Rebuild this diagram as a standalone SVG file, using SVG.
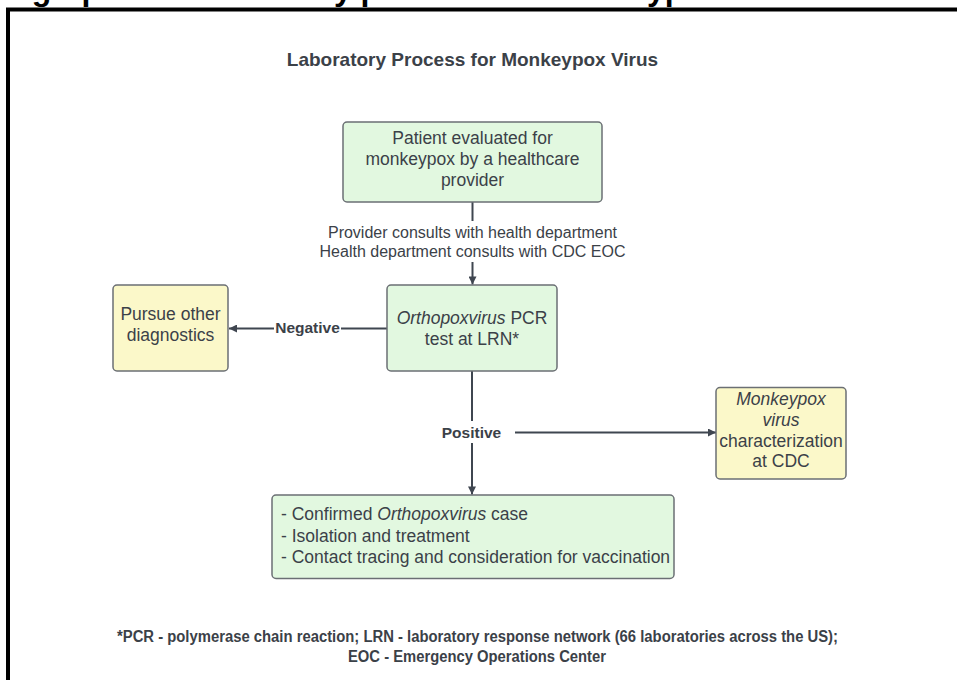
<svg xmlns="http://www.w3.org/2000/svg" width="957" height="680" viewBox="0 0 957 680">
<defs>
<style>
.t{font-family:"Liberation Sans",Arial,sans-serif;fill:#3b4148;}
.n{font-size:17.5px;}
.lbl{font-size:16px;}
.b{font-weight:bold;}
.fn{font-family:"Liberation Sans Narrow","Liberation Sans",Arial,sans-serif;font-weight:bold;font-size:16px;fill:#3b4148;}
.box{stroke:#6b6f74;stroke-width:1.5;}
.g{fill:#e2f8e0;}
.y{fill:#fbf8c9;}
.c{stroke:#3f4650;stroke-width:2;fill:none;}
</style>
<marker id="ah" viewBox="0 0 10 10" refX="10" refY="5" markerWidth="11" markerHeight="8" markerUnits="userSpaceOnUse" orient="auto">
<path d="M0,0 L10,5 L0,10 z" fill="#3f4650"/>
</marker>
</defs>
<rect x="0" y="0" width="957" height="680" fill="#ffffff"/>
<text x="-27" y="-0.5" style="font-family:'Liberation Sans',Arial,sans-serif;font-weight:bold;font-size:32px;fill:#000">Infographic of laboratory process for monkeypox virus</text>
<rect x="8" y="9.5" width="960" height="690" fill="none" stroke="#000" stroke-width="4"/>
<text class="t b" x="472.5" y="66" text-anchor="middle" font-size="19">Laboratory Process for Monkeypox Virus</text>

<g id="connectors">
<path class="c" d="M472.5 202 V221"/>
<path class="c" d="M472.5 262 V284.5" marker-end="url(#ah)"/>
<path class="c" d="M387 328.5 H341"/>
<path class="c" d="M274 328.5 H229" marker-end="url(#ah)"/>
<path class="c" d="M472 371 V421"/>
<path class="c" d="M472 443 V494.5" marker-end="url(#ah)"/>
<path class="c" d="M515 432.5 H716" marker-end="url(#ah)"/>
<text class="t lbl" x="472.5" y="238" text-anchor="middle">Provider consults with health department</text>
<text class="t lbl" x="472.5" y="256.5" text-anchor="middle">Health department consults with CDC EOC</text>
<text class="t b" x="307.5" y="333" text-anchor="middle" font-size="15.5">Negative</text>
<text class="t b" x="471.5" y="437.5" text-anchor="middle" font-size="15.5">Positive</text>
</g>

<g id="node-patient">
<rect class="box g" x="343" y="122" width="259" height="80" rx="4"/>
<text class="t n" x="472.5" y="144" text-anchor="middle">Patient evaluated for</text>
<text class="t n" x="472.5" y="165" text-anchor="middle">monkeypox by a healthcare</text>
<text class="t n" x="472.5" y="186" text-anchor="middle">provider</text>
</g>

<g id="node-pcr">
<rect class="box g" x="387" y="285" width="170" height="86" rx="4"/>
<text class="t n" x="472" y="324" text-anchor="middle"><tspan font-style="italic">Orthopoxvirus</tspan> PCR</text>
<text class="t n" x="472" y="345" text-anchor="middle">test at LRN*</text>
</g>

<g id="node-other">
<rect class="box y" x="113" y="285" width="115" height="86" rx="4"/>
<text class="t n" x="170.5" y="320" text-anchor="middle">Pursue other</text>
<text class="t n" x="170.5" y="341" text-anchor="middle">diagnostics</text>
</g>

<g id="node-cdc">
<rect class="box y" x="716" y="387.5" width="130" height="91.5" rx="4"/>
<text class="t n" x="781" y="405" text-anchor="middle" font-style="italic">Monkeypox</text>
<text class="t n" x="781" y="425.5" text-anchor="middle" font-style="italic">virus</text>
<text class="t n" x="781" y="446.5" text-anchor="middle">characterization</text>
<text class="t n" x="781" y="467" text-anchor="middle">at CDC</text>
</g>

<g id="node-confirmed">
<rect class="box g" x="272" y="495" width="402" height="83.5" rx="4"/>
<text class="t n" x="281" y="519.5">- Confirmed <tspan font-style="italic">Orthopoxvirus</tspan> case</text>
<text class="t n" x="281" y="541.5">- Isolation and treatment</text>
<text class="t n" x="281" y="562.5">- Contact tracing and consideration for vaccination</text>
</g>

<g id="footnote">
<text class="fn" x="117" y="642" textLength="721" lengthAdjust="spacingAndGlyphs">*PCR - polymerase chain reaction; LRN - laboratory response network (66 laboratories across the US);</text>
<text class="fn" x="348" y="662" textLength="258" lengthAdjust="spacingAndGlyphs">EOC - Emergency Operations Center</text>
</g>
</svg>
